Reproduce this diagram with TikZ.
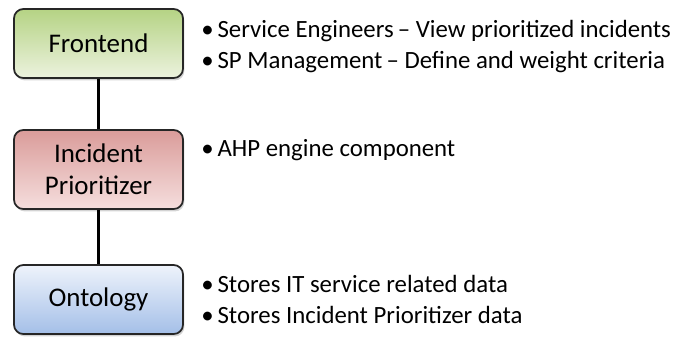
\documentclass[tikz,border=0pt]{standalone}
\usepackage{fontspec}
\setmainfont{Carlito}
\usetikzlibrary{shadows}
\definecolor{edge}{HTML}{262626}
\definecolor{greenTop}{HTML}{B5D384}
\definecolor{greenBot}{HTML}{ECF2DE}
\definecolor{redTop}{HTML}{DA9C9A}
\definecolor{redBot}{HTML}{F5DEDD}
\definecolor{blueTop}{HTML}{EEF3FB}
\definecolor{blueBot}{HTML}{A4BFE8}
\newcommand{\itembullet}{\textbullet\hspace{3pt}}
\tikzset{
  layerbox/.style={draw=edge, line width=1.3pt, rounded corners=7pt,
    minimum width=126.75pt, align=center, font=\fontsize{20.2}{24}\selectfont,
    drop shadow={opacity=0.35, shadow xshift=1pt, shadow yshift=-1.8pt}},
  link/.style={draw=black, line width=1.8pt},
  note/.style={anchor=base west, inner sep=0pt, font=\fontsize{18.6}{22}\selectfont}
}
\begin{document}
\begin{tikzpicture}[x=0.75pt, y=-0.75pt]
  \useasboundingbox (0,0) rectangle (678,337);
  % component boxes
  \node[layerbox, minimum height=51.75pt, top color=greenTop, bottom color=greenBot]
    (front) at (98.5,43.5) {Frontend};
  \node[layerbox, minimum height=59.25pt, top color=redTop, bottom color=redBot]
    (prio) at (98.5,169.5) {Incident\\Prioritizer};
  \node[layerbox, minimum height=51.75pt, top color=blueTop, bottom color=blueBot]
    (onto) at (98.5,299.5) {Ontology};
  % vertical links
  \draw[link] (front.south) -- (prio.north);
  \draw[link] (prio.south) -- (onto.north);
  % descriptions
  \node[note] (n1) at (201,37) {\itembullet Service Engineers\,– View prioritized incidents};
  \node[note] (n2) at (201,68) {\itembullet SP Management\,– Define and weight criteria};
  \node[note] (n3) at (201,156) {\itembullet AHP engine component};
  \node[note] (n4) at (201,292) {\itembullet Stores IT service related data};
  \node[note] (n5) at (201,323) {\itembullet Stores Incident Prioritizer data};
\end{tikzpicture}
\end{document}
